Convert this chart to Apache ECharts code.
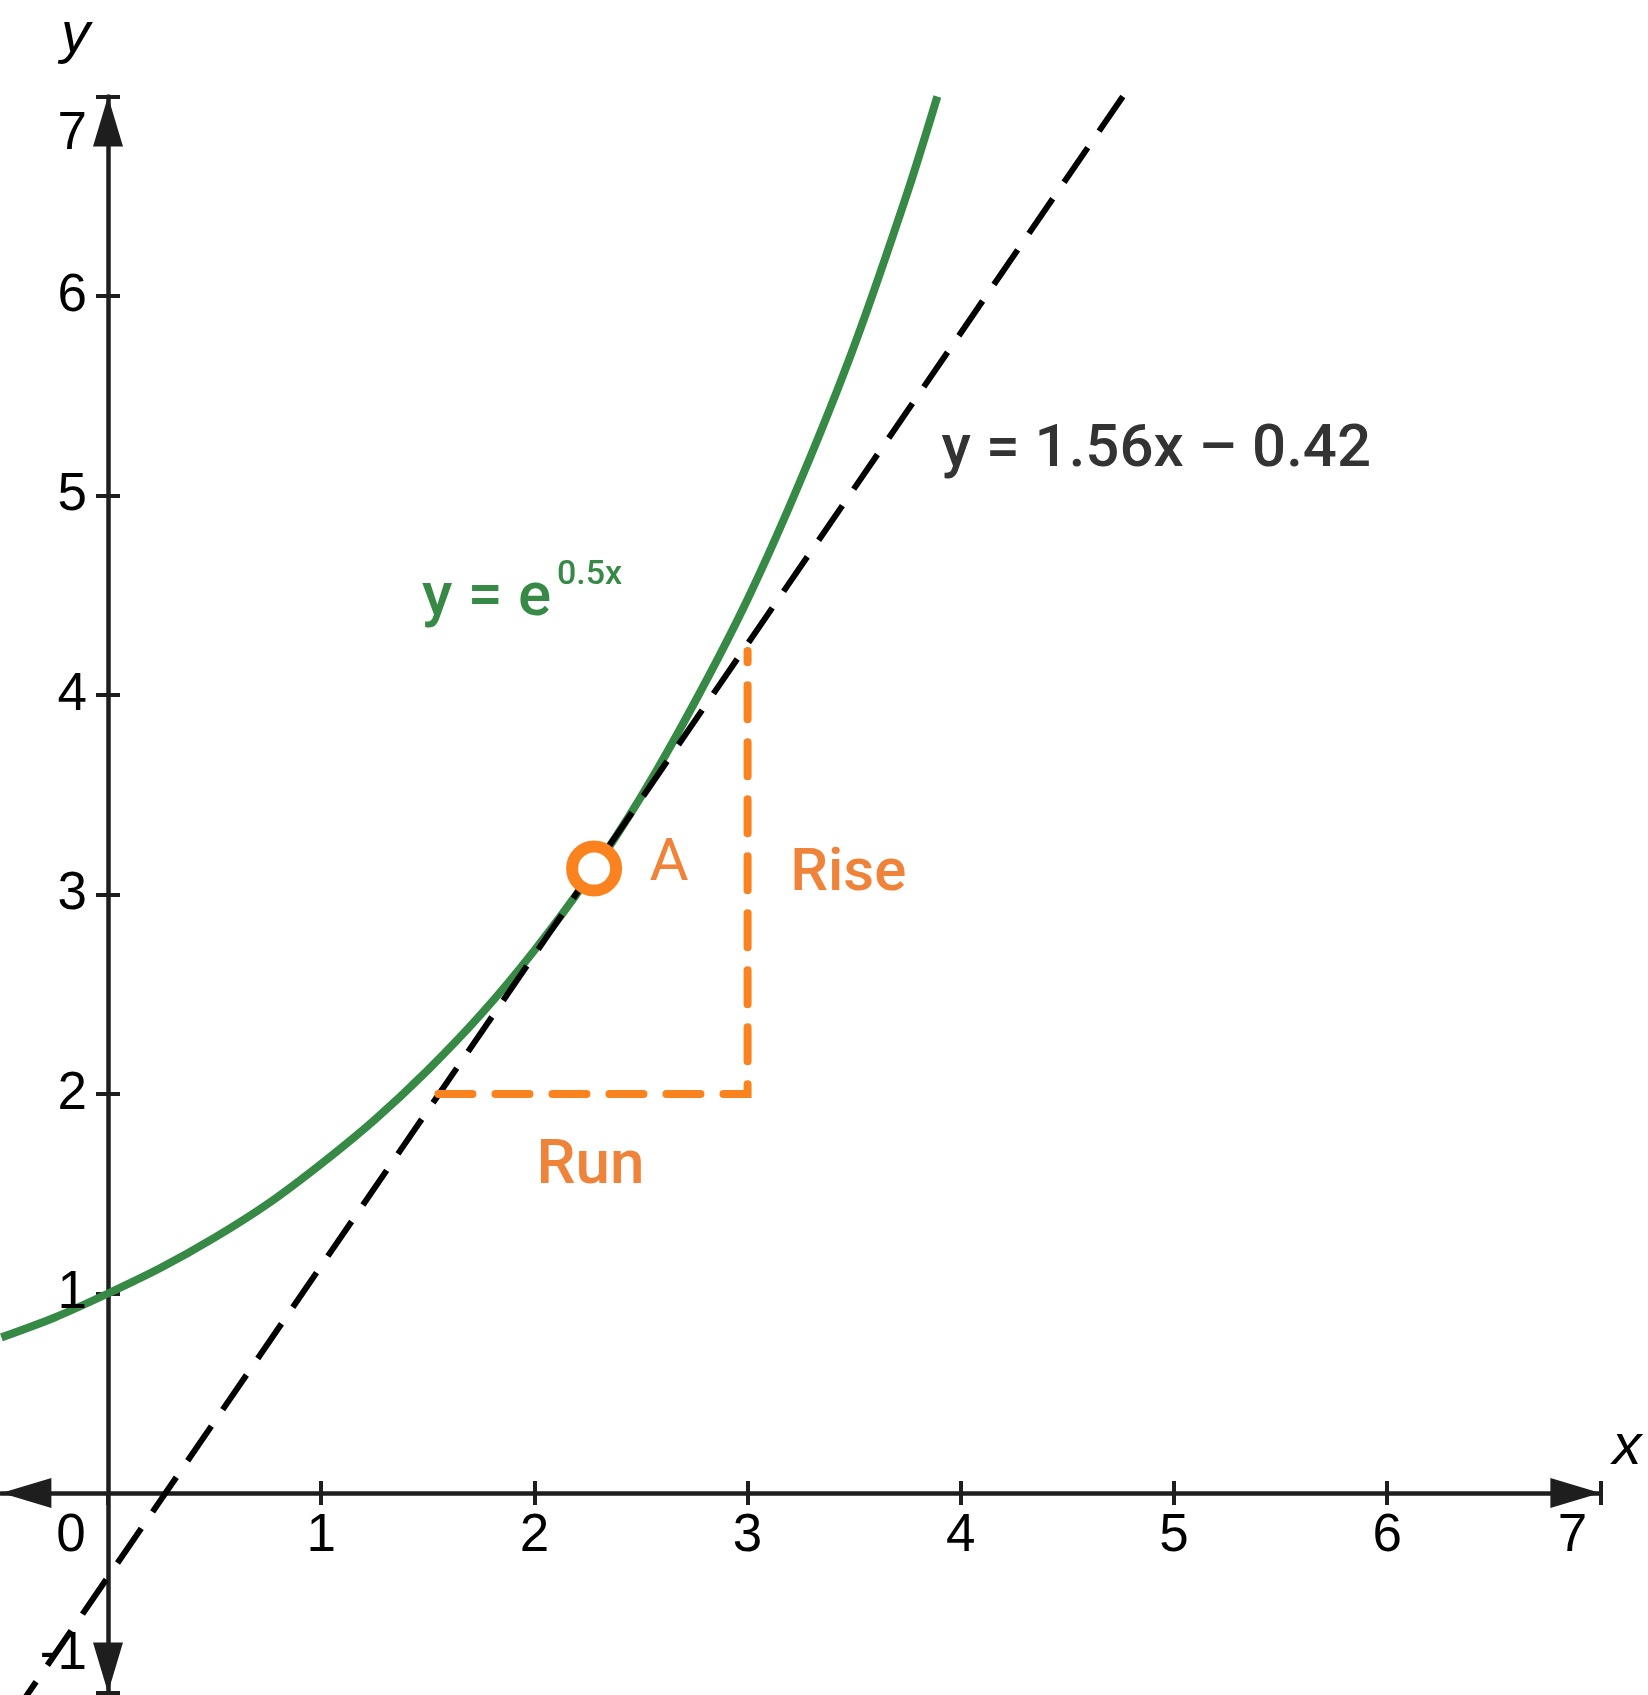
<!DOCTYPE html>
<html>
<head>
<meta charset="utf-8">
<title>Tangent to y = e^0.5x</title>
<script src="https://cdn.jsdelivr.net/npm/echarts@6.0.0/dist/echarts.min.js"></script>
<style>
  html, body { margin: 0; padding: 0; background: #fff; }
  #chart { width: 1648px; height: 1695px; }
</style>
</head>
<body>
<div id="chart"></div>
<script>
// values
var curveX = [-0.5, -0.25, 0, 0.25, 0.5, 0.75, 1, 1.25, 1.5, 1.75, 2, 2.25, 2.5, 2.75, 3, 3.25, 3.5, 3.75, 3.89];
var curveY = [0.78, 0.88, 1.00, 1.13, 1.28, 1.45, 1.65, 1.87, 2.12, 2.40, 2.72, 3.08, 3.49, 3.96, 4.48, 5.08, 5.75, 6.52, 7.00];
var tangentX = [4.76, -0.5];   // drawn from the top so the dash starts at y = 7
var tangentY = [7.0, -1.2];
var triangleX = [1.55, 3, 3];   // run then rise
var triangleY = [2, 2, 4.22];
var pointA = [2.28, 3.13];
var xTicks = [0, 1, 2, 3, 4, 5, 6, 7];
var yTicks = [-1, 1, 2, 3, 4, 5, 6, 7];

var GREEN = '#378a46';
var ORANGE = '#fa8320';
var ORANGE_TXT = '#ee8339';
var AXIS = '#1e1e1e';

function zip(xs, ys) {
  var out = [];
  for (var i = 0; i < xs.length; i++) out.push([xs[i], ys[i]]);
  return out;
}

// tick labels as text on (k,0) / (0,k); end labels are nudged inward like the original
function xLabelData() {
  return xTicks.map(function (v) {
    var d = { value: [v, 0] };
    if (v === 0) d.label = { offset: [-37, 0] };
    if (v === 7) d.label = { offset: [-28, 0] };
    return d;
  });
}
function yLabelData() {
  return yTicks.map(function (v) {
    var d = { value: [0, v] };
    if (v === 7) d.label = { offset: [0, 38] };
    if (v === -1) d.label = { offset: [0, -38] };
    return d;
  });
}

var chart = echarts.init(document.getElementById('chart'), null, { renderer: 'canvas' });

var tickLabelStyle = { color: '#000', fontFamily: 'Liberation Sans', fontSize: 53 };

var option = {
  animation: false,
  backgroundColor: '#fff',
  grid: { left: 1.4, right: 47.6, top: 96.5, bottom: 2.5, containLabel: false, outerBoundsMode: 'none' },
  xAxis: [{
    type: 'value', min: -0.5, max: 7,
    axisLine: {
      onZero: true,
      lineStyle: { color: AXIS, width: 4.5 },
      symbol: ['triangle', 'triangle'], symbolSize: [30, 50], symbolOffset: [25, -25]
    },
    axisTick: { show: true, length: 12, customValues: xTicks, lineStyle: { color: AXIS, width: 4 } },
    axisLabel: { show: false },
    splitLine: { show: false },
    name: 'x', nameLocation: 'end', nameGap: 12,
    nameTextStyle: { fontFamily: 'Liberation Sans', fontStyle: 'italic', fontSize: 58, color: '#000', verticalAlign: 'bottom', padding: [0, 0, 16, 0] }
  }, {
    // upper half of the x ticks
    type: 'value', min: -0.5, max: 7, position: 'top',
    axisLine: { show: false, onZero: true, onZeroAxisIndex: 0 },
    axisTick: { show: true, length: 12, customValues: xTicks.slice(1), lineStyle: { color: AXIS, width: 4 } },
    axisLabel: { show: false },
    splitLine: { show: false }
  }],
  yAxis: [{
    type: 'value', min: -1, max: 7, interval: 1,
    axisLine: {
      onZero: true,
      lineStyle: { color: AXIS, width: 4.5 },
      symbol: ['triangle', 'triangle'], symbolSize: [30, 50], symbolOffset: [25, -25]
    },
    axisTick: { show: true, length: 12, customValues: yTicks, lineStyle: { color: AXIS, width: 4 } },
    axisLabel: { show: false },
    splitLine: { show: false },
    name: 'y', nameLocation: 'end', nameGap: 32,
    nameTextStyle: { fontFamily: 'Liberation Sans', fontStyle: 'italic', fontSize: 58, color: '#000', align: 'right', verticalAlign: 'bottom', padding: [0, 18, 0, 0] }
  }, {
    // right half of the y ticks
    type: 'value', min: -1, max: 7, position: 'right',
    axisLine: { show: false, onZero: true, onZeroAxisIndex: 0 },
    axisTick: { show: true, length: 12, customValues: yTicks, lineStyle: { color: AXIS, width: 4 } },
    axisLabel: { show: false },
    splitLine: { show: false }
  }],
  series: [{
    name: 'curve', type: 'line', smooth: 0.3, showSymbol: false, symbol: 'none',
    data: zip(curveX, curveY),
    lineStyle: { color: GREEN, width: 8 },
    z: 2
  }, {
    name: 'tangent', type: 'line', showSymbol: false, symbol: 'none',
    data: zip(tangentX, tangentY),
    lineStyle: { color: '#000', width: 6, type: [42, 20] },
    z: 3
  }, {
    name: 'riseRun', type: 'line', showSymbol: false, symbol: 'none',
    data: zip(triangleX, triangleY),
    lineStyle: { color: ORANGE, width: 8, type: [34, 23], cap: 'round', join: 'miter' },
    z: 3
  }, {
    name: 'A', type: 'scatter', symbol: 'circle', symbolSize: 44,
    data: [pointA],
    itemStyle: { color: '#fff', borderColor: ORANGE, borderWidth: 12, opacity: 1 },
    z: 5
  }, {
    name: 'xTickLabels', type: 'scatter', symbolSize: 0, silent: true, z: 6, clip: false,
    itemStyle: { opacity: 1 },
    label: Object.assign({ show: true, position: 'bottom', distance: 17, formatter: function (p) { return String(p.value[0]); } }, tickLabelStyle),
    data: xLabelData()
  }, {
    name: 'yTickLabels', type: 'scatter', symbolSize: 0, silent: true, z: 6, clip: false,
    itemStyle: { opacity: 1 },
    label: Object.assign({ show: true, position: 'left', distance: 21, formatter: function (p) { return String(p.value[1]); } }, tickLabelStyle),
    data: yLabelData()
  }, {
    name: 'notes', type: 'scatter', symbolSize: 0, silent: true, z: 6,
    itemStyle: { opacity: 1 },
    label: { show: true, position: 'right', distance: 0, fontFamily: 'Roboto' },
    data: [
      { value: [3.91, 5.225], label: { formatter: 'y = 1.56x \u2013 0.42', color: '#333', fontSize: 60, fontWeight: 500 } },
      { value: [1.473, 4.48], label: { formatter: 'y = e', color: GREEN, fontSize: 62, fontWeight: 500 } },
      { value: [2.106, 4.6], label: { formatter: '0.5x', color: GREEN, fontSize: 34, fontWeight: 500 } },
      { value: [2.54, 3.15], label: { formatter: 'A', color: ORANGE_TXT, fontSize: 60, fontWeight: 400 } },
      { value: [3.2, 3.1], label: { formatter: 'Rise', color: ORANGE_TXT, fontSize: 60, fontWeight: 500 } },
      { value: [2.01, 1.63], label: { formatter: 'Run', color: ORANGE_TXT, fontSize: 62, fontWeight: 500 } }
    ]
  }]
};

chart.setOption(option);
</script>
</body>
</html>
